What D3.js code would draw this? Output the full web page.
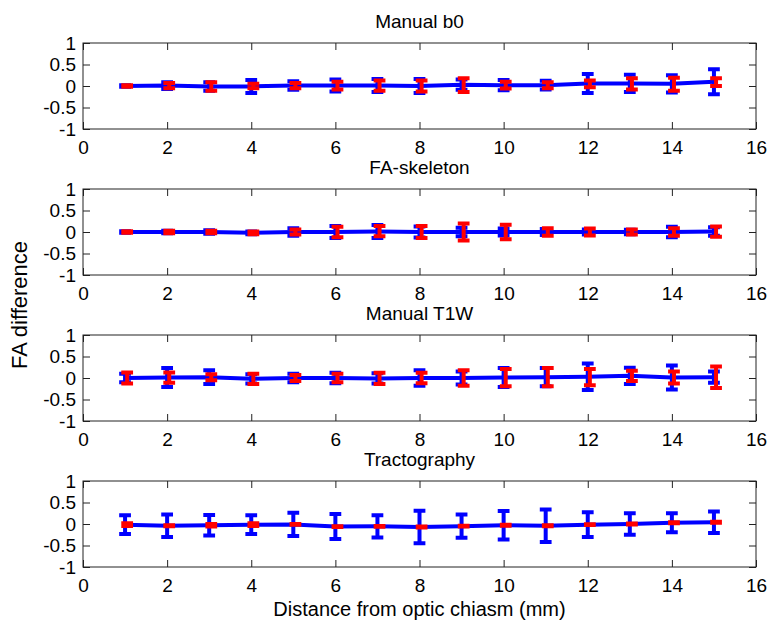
<!DOCTYPE html>
<html>
<head>
<meta charset="utf-8">
<script src="https://cdn.jsdelivr.net/npm/d3@7"></script>
<style>
  body{margin:0;background:#fff;}
</style>
</head>
<body>
<svg id="svgx"></svg>
<script>
// ---- data ----
var distance=[1,2,3,4,5,6,7,8,9,10,11,12,13,14,15];
var panelTitles=["Manual b0","FA-skeleton","Manual T1W","Tractography"];
var xTicks=[0,2,4,6,8,10,12,14,16];
var yTicks=[-1,-0.5,0,0.5,1];

// Manual b0
var b0Blue=[0,0.01,-0.01,-0.01,0.01,0.01,0.01,0,0.03,0.02,0.02,0.06,0.06,0.05,0.1];
var b0BlueErr=[0.02,0.08,0.1,0.15,0.1,0.14,0.15,0.16,0.12,0.12,0.1,0.22,0.2,0.2,0.29];
var b0Red=[0,0.01,-0.01,0,0.01,0.01,0.01,0,0.02,0.02,0.02,0.05,0.05,0.04,0.09];
var b0RedErr=[0.02,0.06,0.1,0.05,0.06,0.09,0.12,0.13,0.16,0.08,0.07,0.08,0.13,0.15,0.09];

// FA-skeleton
var skelBlue=[0,0,0,-0.02,0,0,0.01,0,0,0,0,0,0,0,0.01];
var skelBlueErr=[0.02,0.03,0.04,0.03,0.09,0.14,0.15,0.13,0.1,0.08,0.07,0.06,0.05,0.12,0.1];
var skelRed=[0,0,0,-0.02,0,0,0.02,0,0,0,0,0,0,0,0.01];
var skelRedErr=[0.02,0.03,0.03,0.03,0.06,0.12,0.12,0.14,0.2,0.17,0.09,0.08,0.06,0.09,0.12];

// Manual T1W
var t1Blue=[0,0.01,0.02,-0.02,0,0,-0.01,0,0,0.01,0.02,0.03,0.05,0.01,0.02];
var t1BlueErr=[0.1,0.22,0.16,0.11,0.1,0.12,0.12,0.18,0.15,0.22,0.21,0.31,0.19,0.28,0.13];
var t1Red=[0,0.01,0.02,-0.02,0,0,-0.01,0,0,0.01,0.02,0.02,0.05,0.01,0.02];
var t1RedErr=[0.13,0.12,0.07,0.12,0.07,0.1,0.13,0.12,0.18,0.2,0.21,0.19,0.12,0.14,0.25];

// Tractography
var tractBlue=[-0.015,-0.04,-0.03,-0.015,-0.01,-0.06,-0.055,-0.07,-0.05,-0.03,-0.04,-0.015,0,0.03,0.04];
var tractBlueErr=[0.22,0.26,0.24,0.22,0.27,0.29,0.26,0.38,0.27,0.33,0.38,0.29,0.25,0.22,0.25];
var tractRed=[-0.015,-0.04,-0.03,-0.015,-0.01,-0.06,-0.055,-0.07,-0.05,-0.03,-0.04,-0.015,0,0.03,0.04];
var tractRedErr=[0.03,0.01,0.03,0.03,0.01,0.01,0.01,0.01,0.01,0.01,0.01,0.01,0.01,0.01,0.01];

var panels=[
  {title:panelTitles[0],blue:b0Blue,blueErr:b0BlueErr,red:b0Red,redErr:b0RedErr},
  {title:panelTitles[1],blue:skelBlue,blueErr:skelBlueErr,red:skelRed,redErr:skelRedErr},
  {title:panelTitles[2],blue:t1Blue,blueErr:t1BlueErr,red:t1Red,redErr:t1RedErr},
  {title:panelTitles[3],blue:tractBlue,blueErr:tractBlueErr,red:tractRed,redErr:tractRedErr}
];

// ---- layout ----
var widthA=771, heightA=620;
var left=83, right=756;
var firstTop=43, panelStep=146, panelH=86;
var tickLen=7;
var tee=0.14;        // half width of error bar caps (x units)
var redShift=0.05;   // red bars drawn a touch to the right
var font='"Liberation Sans", Arial, Helvetica, sans-serif';
var frameColor="#222";

var svg=d3.select('#svgx')
  .attr("width",widthA)
  .attr("height",heightA)
  .style("font-family",font);

svg.append('rect').attr('width',widthA).attr('height',heightA).attr('fill','#fff');

var x=d3.scaleLinear().domain([0,16]).range([left,right]);

function errorPath(xs,m,e,y,shift){
  var cx=x(xs+shift), xl=x(xs+shift-tee), xr=x(xs+shift+tee);
  var y1=y(m-e), y2=y(m+e);
  return `M${cx},${y1}V${y2}M${xl},${y1}H${xr}M${xl},${y2}H${xr}`;
}

panels.forEach(function(p,i){
  var top=firstTop+i*panelStep;
  var y=d3.scaleLinear().domain([-1,1]).range([panelH,0]);

  var g=svg.append('g')
    .attr('class','panel')
    .attr('transform',`translate(0,${top})`);

  // axes (ticks inward, MATLAB style)
  var xb=g.append('g').attr('transform',`translate(0,${panelH})`)
    .call(d3.axisBottom(x).tickValues(xTicks).tickSizeInner(-tickLen).tickSizeOuter(0).tickPadding(12).tickFormat(d=>String(d)));
  var xt=g.append('g')
    .call(d3.axisTop(x).tickValues(xTicks).tickSizeInner(-tickLen).tickSizeOuter(0).tickFormat(""));
  var yl=g.append('g').attr('transform',`translate(${left},0)`)
    .call(d3.axisLeft(y).tickValues(yTicks).tickSizeInner(-tickLen).tickSizeOuter(0).tickPadding(7).tickFormat(d=>String(d)));
  var yr=g.append('g').attr('transform',`translate(${right},0)`)
    .call(d3.axisRight(y).tickValues(yTicks).tickSizeInner(-tickLen).tickSizeOuter(0).tickFormat(""));

  [xb,xt,yl,yr].forEach(function(a){
    a.select('.domain').remove();
    a.selectAll('line').attr('stroke',frameColor);
    a.selectAll('text').attr('fill','#000').style('font-size','19px').style('font-family',font);
  });

  g.append('rect')
    .attr('x',left).attr('y',0)
    .attr('width',right-left).attr('height',panelH)
    .attr('fill','none').attr('stroke',frameColor).attr('stroke-width',1);

  g.append('text')
    .attr('x',(left+right)/2).attr('y',-15)
    .attr('text-anchor','middle')
    .style('font-size','19px')
    .text(p.title);

  var pts=distance.map((d,k)=>[d,p.blue[k]]);

  g.append('path')
    .datum(pts)
    .attr('d',d3.line().x(d=>x(d[0])).y(d=>y(d[1])))
    .attr('fill','none')
    .attr('stroke','#0000ff')
    .attr('stroke-width',4)
    .attr('stroke-linejoin','round');

  g.selectAll('.ebBlue')
    .data(distance)
    .enter()
    .append('path')
    .attr('class','ebBlue')
    .attr('d',(d,k)=>errorPath(d,p.blue[k],p.blueErr[k],y,0))
    .attr('fill','none')
    .attr('stroke','#0000ff')
    .attr('stroke-width',4);

  g.selectAll('.ebRed')
    .data(distance)
    .enter()
    .append('path')
    .attr('class','ebRed')
    .attr('d',(d,k)=>errorPath(d,p.red[k],p.redErr[k],y,redShift))
    .attr('fill','none')
    .attr('stroke','#ff0000')
    .attr('stroke-width',4);
});

// shared labels
svg.append('text')
  .attr('transform',`translate(27,305) rotate(-90)`)
  .attr('text-anchor','middle')
  .style('font-size','22px')
  .text('FA difference');

svg.append('text')
  .attr('x',(left+right)/2).attr('y',616)
  .attr('text-anchor','middle')
  .style('font-size','20px')
  .text('Distance from optic chiasm (mm)');
</script>
</body>
</html>
